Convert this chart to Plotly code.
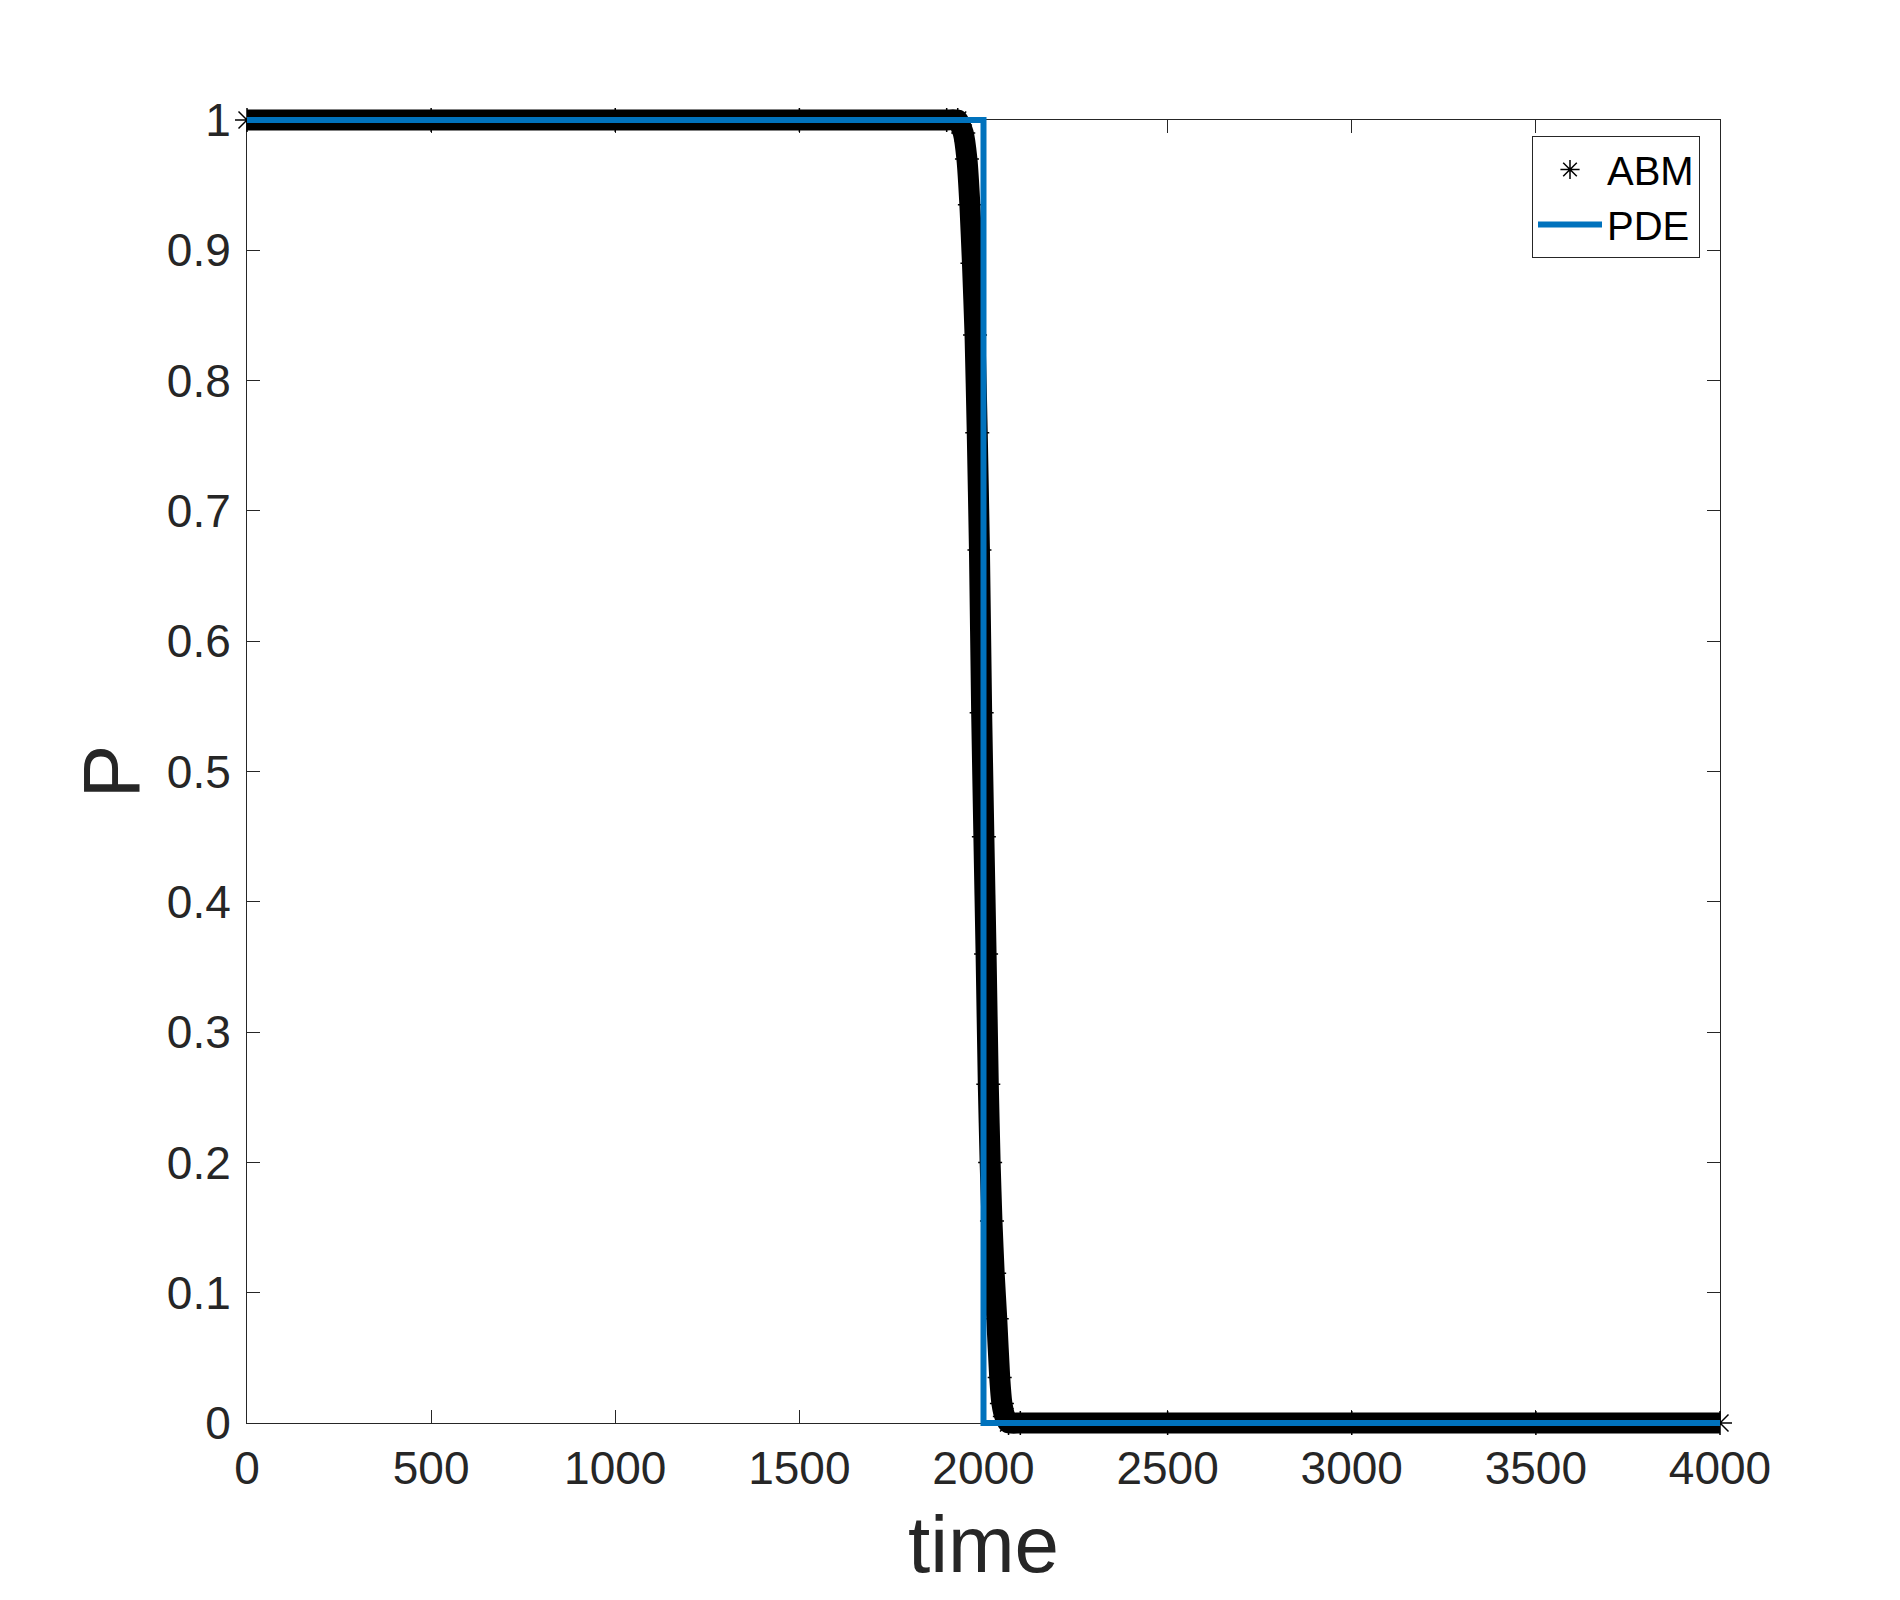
import plotly.graph_objects as go

# ABM simulation: fraction P over time
abm_time = [0, 500, 1000, 1500, 1900, 1930, 1945, 1955, 1963, 1970, 1977, 1983,
            1989, 1995, 2001, 2007, 2013, 2018, 2023, 2029, 2036, 2044, 2050,
            2058, 2068, 2100, 2500, 3000, 3500, 4000]
abm_p = [1.0, 1.0, 1.0, 1.0, 1.0, 1.0, 0.99, 0.97, 0.935, 0.89, 0.835, 0.76,
         0.67, 0.545, 0.45, 0.36, 0.26, 0.20, 0.155, 0.115, 0.08, 0.035, 0.015,
         0.005, 0.0, 0.0, 0.0, 0.0, 0.0, 0.0]

# PDE solution: sharp front at t = 2000
pde_time = [0, 2000, 2000, 4000]
pde_p = [1, 1, 0, 0]

x_ticks = [0, 500, 1000, 1500, 2000, 2500, 3000, 3500, 4000]
y_ticks = [0, 0.1, 0.2, 0.3, 0.4, 0.5, 0.6, 0.7, 0.8, 0.9, 1]
y_tick_text = ["0", "0.1", "0.2", "0.3", "0.4", "0.5", "0.6", "0.7", "0.8", "0.9", "1"]

W, H = 1900, 1600
ML, MR, MT, MB = 200, 150, 80, 150
PW, PH = W - ML - MR, H - MT - MB
OFF = 8  # page body margin
# axes box in pixels
BL, BR, BT, BB = 247 - OFF, 1720 - OFF, 120 - OFF, 1423 - OFF
PAD = 25


def fx(px):
    return (px - ML) / PW


def fy(py):
    return (H - MB - py) / PH


xpad = PAD * (x_ticks[-1] - x_ticks[0]) / (BR - BL)
ypad = PAD * (y_ticks[-1] - y_ticks[0]) / (BB - BT)

AX = "#262626"
FONT = "Liberation Sans, Arial, Helvetica, sans-serif"

fig = go.Figure()

# invisible trace so the framed axes get drawn
fig.add_trace(go.Scatter(
    x=[x_ticks[0], x_ticks[-1]], y=[y_ticks[0], y_ticks[-1]], mode="markers",
    marker=dict(opacity=0), showlegend=False, hoverinfo="skip"
))

# thick black band formed by the dense ABM markers
fig.add_trace(go.Scatter(
    x=abm_time, y=abm_p, mode="lines",
    line=dict(color="black", width=21, shape="spline", smoothing=0.4),
    showlegend=False, hoverinfo="skip",
    xaxis="x2", yaxis="y2"
))

fig.add_trace(go.Scatter(
    x=abm_time, y=abm_p, mode="markers", name="ABM",
    marker=dict(symbol="asterisk-open", size=20, color="black",
                line=dict(color="black", width=1.5)),
    cliponaxis=False,
    xaxis="x2", yaxis="y2"
))

fig.add_trace(go.Scatter(
    x=pde_time, y=pde_p, mode="lines", name="PDE",
    line=dict(color="#0072BD", width=6),
    cliponaxis=False,
    xaxis="x2", yaxis="y2"
))

fig.update_layout(
    width=W,
    height=H,
    margin=dict(l=ML, r=MR, t=MT, b=MB, pad=0),
    paper_bgcolor="white",
    plot_bgcolor="rgba(0,0,0,0)",
    font=dict(family=FONT, color=AX),
    xaxis=dict(
        domain=[fx(BL), fx(BR)], anchor="y",
        range=[x_ticks[0], x_ticks[-1]],
        tickvals=x_ticks,
        ticks="inside", ticklen=13, tickwidth=1, tickcolor=AX,
        showline=True, linecolor=AX, linewidth=1, mirror="ticks",
        showgrid=False, zeroline=False,
        tickfont=dict(size=46, color=AX), ticklabelstandoff=5,
        title=dict(text="time", font=dict(size=80, color=AX), standoff=22),
        automargin=False,
    ),
    yaxis=dict(
        domain=[fy(BB), fy(BT)], anchor="x",
        range=[y_ticks[0], y_ticks[-1]],
        tickvals=y_ticks, ticktext=y_tick_text,
        ticks="inside", ticklen=13, tickwidth=1, tickcolor=AX,
        showline=True, linecolor=AX, linewidth=1, mirror="ticks",
        showgrid=False, zeroline=False,
        tickfont=dict(size=46, color=AX), ticklabelstandoff=6,
        title=dict(text="P", font=dict(size=80, color=AX), standoff=0),
        automargin=False,
    ),
    xaxis2=dict(
        domain=[fx(BL - PAD), fx(BR + PAD)], anchor="y2",
        range=[x_ticks[0] - xpad, x_ticks[-1] + xpad],
        visible=False,
    ),
    yaxis2=dict(
        domain=[fy(BB + PAD), fy(BT - PAD)], anchor="x2",
        range=[y_ticks[0] - ypad, y_ticks[-1] + ypad],
        visible=False,
    ),
    legend=dict(
        x=fx(1700 - OFF), y=fy(136 - OFF), xanchor="right", yanchor="top",
        bgcolor="white", bordercolor=AX, borderwidth=1, itemwidth=64,
        font=dict(size=40, color="black", family=FONT),
    ),
)

fig.write_html("out.html")
